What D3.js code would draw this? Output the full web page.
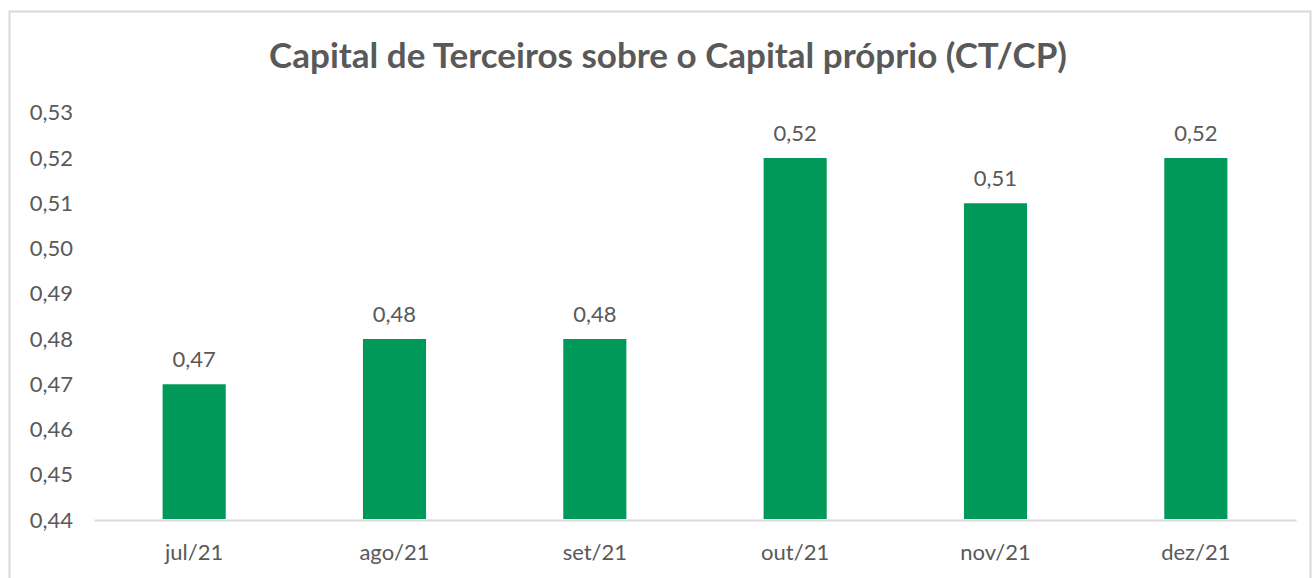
<!DOCTYPE html>
<html>
<head>
<meta charset="utf-8">
<script src="https://cdn.jsdelivr.net/npm/d3@7"></script>
<style>
  body { margin: 0; background: #fff; }
  text { font-family: Lato, "Open Sans", sans-serif; fill: #595959; }
</style>
</head>
<body>
<div class="chart"></div>
<script>
const title = "Capital de Terceiros sobre o Capital próprio (CT/CP)";
const months = ["jul/21", "ago/21", "set/21", "out/21", "nov/21", "dez/21"];
const ratios = [0.47, 0.48, 0.48, 0.52, 0.51, 0.52];
const yTicks = [0.44, 0.45, 0.46, 0.47, 0.48, 0.49, 0.50, 0.51, 0.52, 0.53];

const W = 1314, H = 578;
const margin = {top: 112.75, left: 94, right: 18, bottom: 58};

const fmt = v => d3.format(".2f")(v).replace(".", ",");

const svg = d3.select(".chart")
    .append("svg")
    .attr("width", W)
    .attr("height", H);

// chart frame (bottom edge is cut off in the reference)
svg.append("rect")
    .attr("x", 9.5).attr("y", 11.5)
    .attr("width", W - 13).attr("height", H)
    .attr("fill", "none")
    .attr("stroke", "#d9d9d9")
    .attr("stroke-width", 2);

svg.append("text")
    .attr("x", 668).attr("y", 68)
    .attr("text-anchor", "middle")
    .attr("font-size", 35)
    .attr("font-weight", "bold")
    .text(title);

const x = d3.scaleBand()
    .domain(months)
    .range([margin.left, W - margin.right])
    .paddingInner(0.685)
    .paddingOuter(0.3425);

const y = d3.scaleLinear()
    .domain([0.44, 0.53])
    .range([H - margin.bottom, margin.top]);

// y axis labels
const yAxis = svg.append("g")
    .attr("transform", `translate(${margin.left - 21},0)`)
    .call(d3.axisLeft(y).tickValues(yTicks).tickFormat(fmt).tickSize(0).tickPadding(0));
yAxis.select(".domain").remove();
yAxis.selectAll("text")
    .attr("font-size", 22)
    .attr("fill", "#595959")
    .style("font-family", "Lato, 'Open Sans', sans-serif");

// x axis
const xAxis = svg.append("g")
    .attr("transform", `translate(0,${y(0.44)})`)
    .call(d3.axisBottom(x).tickSize(0).tickPadding(24));
xAxis.select(".domain")
    .attr("stroke", "#d9d9d9")
    .attr("stroke-width", 2);
xAxis.selectAll("text")
    .attr("font-size", 22)
    .attr("fill", "#595959")
    .style("font-family", "Lato, 'Open Sans', sans-serif");

svg.append("g")
    .selectAll("rect")
    .data(months)
    .join("rect")
    .attr("x", d => x(d))
    .attr("width", x.bandwidth())
    .attr("y", (d, i) => y(ratios[i]))
    .attr("height", (d, i) => y(0.44) - y(ratios[i]) - 1)
    .attr("fill", "#00995a");

svg.append("g")
    .selectAll("text")
    .data(months)
    .join("text")
    .attr("x", d => x(d) + x.bandwidth() / 2)
    .attr("y", (d, i) => y(ratios[i]) - 17)
    .attr("text-anchor", "middle")
    .attr("font-size", 22)
    .text((d, i) => fmt(ratios[i]));
</script>
</body>
</html>
